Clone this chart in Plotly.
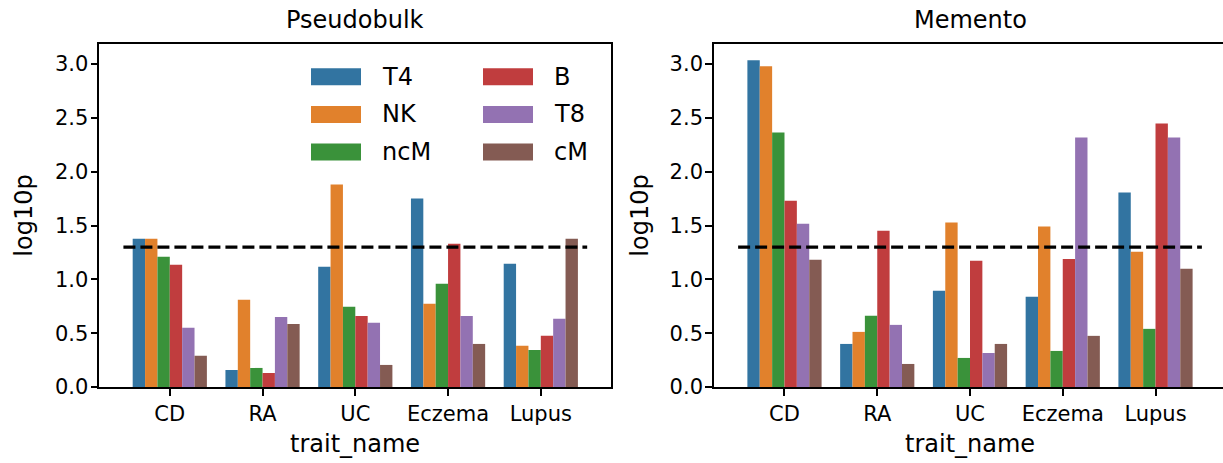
import plotly.graph_objects as go

# ---- data ---------------------------------------------------------------
traits = ["CD", "RA", "UC", "Eczema", "Lupus"]
cell_types = ["T4", "NK", "ncM", "B", "T8", "cM"]

pseudobulk_T4 = [1.378, 0.158, 1.117, 1.750, 1.145]
pseudobulk_NK = [1.378, 0.810, 1.880, 0.773, 0.382]
pseudobulk_ncM = [1.210, 0.177, 0.745, 0.959, 0.344]
pseudobulk_B = [1.135, 0.130, 0.660, 1.331, 0.475]
pseudobulk_T8 = [0.550, 0.650, 0.596, 0.660, 0.633]
pseudobulk_cM = [0.290, 0.586, 0.205, 0.400, 1.378]

memento_T4 = [3.035, 0.400, 0.894, 0.838, 1.806]
memento_NK = [2.980, 0.512, 1.527, 1.490, 1.257]
memento_ncM = [2.364, 0.661, 0.270, 0.335, 0.540]
memento_B = [1.731, 1.452, 1.173, 1.190, 2.448]
memento_T8 = [1.517, 0.577, 0.316, 2.318, 2.318]
memento_cM = [1.182, 0.214, 0.400, 0.475, 1.098]

threshold = 1.3  # -log10(0.05)

y_ticks = [0.0, 0.5, 1.0, 1.5, 2.0, 2.5, 3.0]

# ---- styling ------------------------------------------------------------
colors = {
    "T4": "#3274a1", "NK": "#e1812c", "ncM": "#3a923a",
    "B": "#c03d3e", "T8": "#9372b2", "cM": "#845b53",
}
FONT = "DejaVu Sans"
W, H = 1223, 463

def fx(px):
    return px / W

def fy(py):
    return 1 - py / H

panels = [
    ("Pseudobulk", [pseudobulk_T4, pseudobulk_NK, pseudobulk_ncM,
                    pseudobulk_B, pseudobulk_T8, pseudobulk_cM]),
    ("Memento", [memento_T4, memento_NK, memento_ncM,
                 memento_B, memento_T8, memento_cM]),
]

# axes boxes in pixels
left_box = (99.3, 611.3)
right_left = 714.0
top_px, bottom_px = 44.3, 387.0
x_lo, x_hi = -0.76, len(traits) - 1 + 0.76
ppu = (left_box[1] - left_box[0]) / (x_hi - x_lo)
y_top = 3.183

fig = go.Figure()
xpos = list(range(len(traits)))

for i, (name, series) in enumerate(panels):
    xa = "x" if i == 0 else "x2"
    ya = "y" if i == 0 else "y2"
    for ct, vals in zip(cell_types, series):
        fig.add_trace(go.Bar(
            x=xpos, y=vals, name=ct, marker_color=colors[ct],
            marker_line_width=0, xaxis=xa, yaxis=ya,
            showlegend=False, offsetgroup=ct,
        ))
    # significance threshold line spanning all categories
    fig.add_trace(go.Scatter(
        x=[-0.5, len(traits) - 0.5], y=[threshold, threshold],
        mode="lines", line=dict(color="black", width=3.2, dash="12px,5px"),
        xaxis=xa, yaxis=ya, showlegend=False, hoverinfo="skip",
    ))

axis_common = dict(
    showline=True, linecolor="black", linewidth=1.6,
    ticks="outside", ticklen=7, tickwidth=1.6, tickcolor="black",
    tickfont=dict(family=FONT, size=21, color="black"),
    showgrid=False, zeroline=False, automargin=False,
)

fig.update_layout(
    width=W, height=H,
    margin=dict(l=0, r=0, t=0, b=0, pad=0, autoexpand=False),
    paper_bgcolor="white", plot_bgcolor="white",
    barmode="group", bargap=0.2, bargroupgap=0,
    xaxis=dict(domain=[fx(left_box[0]), fx(left_box[1])], range=[x_lo, x_hi],
               tickvals=xpos, ticktext=traits, mirror=True, anchor="y",
               **axis_common),
    yaxis=dict(domain=[fy(bottom_px), fy(top_px)], range=[0, y_top],
               tickvals=y_ticks, tickformat=".1f", mirror=True, anchor="x",
               ticklabelstandoff=-2, **axis_common),
    xaxis2=dict(domain=[fx(right_left), 1.0],
                range=[x_lo, x_lo + (W - right_left) / ppu],
                tickvals=xpos, ticktext=traits, mirror=True, anchor="y2",
                **axis_common),
    yaxis2=dict(domain=[fy(bottom_px), fy(top_px)], range=[0, y_top],
                tickvals=y_ticks, tickformat=".1f", mirror=False, anchor="x2",
                ticklabelstandoff=-2, **axis_common),
    showlegend=False,
)

# ---- titles and axis labels ---------------------------------------------
centers = [(left_box[0] + left_box[1]) / 2, right_left + (left_box[1] - left_box[0]) / 2]
ylab_x = [24, 640]
annotations = []
for i, (name, _) in enumerate(panels):
    annotations.append(dict(text=name, x=fx(centers[i]), y=fy(20), xref="paper", yref="paper",
                            showarrow=False, xanchor="center", yanchor="middle",
                            font=dict(family=FONT, size=24, color="black")))
    annotations.append(dict(text="trait_name", x=fx(centers[i]), y=fy(444), xref="paper",
                            yref="paper", showarrow=False, xanchor="center", yanchor="middle",
                            font=dict(family=FONT, size=24, color="black")))
    annotations.append(dict(text="log10p", x=fx(ylab_x[i]), y=fy((top_px + bottom_px) / 2),
                            xref="paper", yref="paper", showarrow=False, textangle=-90,
                            xanchor="center", yanchor="middle",
                            font=dict(family=FONT, size=24, color="black")))

# ---- legend (two columns inside the left panel) -------------------------
shapes = []
col_x = [311, 483]
row_y = [76.7, 114.5, 152.0]
patch_w, patch_h = 50, 17
for k, ct in enumerate(cell_types):
    c, r = divmod(k, 3)
    x0 = col_x[c]
    yc = row_y[r]
    shapes.append(dict(type="rect", xref="paper", yref="paper",
                       x0=fx(x0), x1=fx(x0 + patch_w),
                       y0=fy(yc + patch_h / 2), y1=fy(yc - patch_h / 2),
                       fillcolor=colors[ct], line=dict(width=0)))
    annotations.append(dict(text=ct, x=fx(x0 + patch_w + 19), y=fy(yc), xref="paper",
                            yref="paper", showarrow=False, xanchor="left", yanchor="middle",
                            font=dict(family=FONT, size=24, color="black")))

fig.update_layout(annotations=annotations, shapes=shapes)

fig.write_html("out.html")
